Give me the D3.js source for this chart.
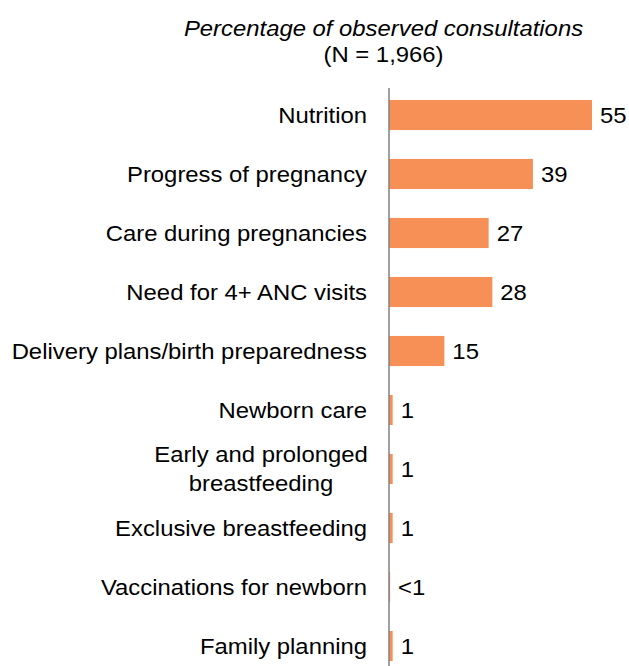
<!DOCTYPE html>
<html>
<head>
<meta charset="utf-8">
<script src="https://cdn.jsdelivr.net/npm/d3@7"></script>
<style>
  html, body { margin: 0; padding: 0; background: #fff; }
  svg { display: block; font-family: "Liberation Sans", Arial, sans-serif; }
</style>
</head>
<body>
<svg id="chart" width="629" height="666"></svg>
<script>
// Topics discussed during observed ANC consultations
const categories = [
  ["Nutrition"],
  ["Progress of pregnancy"],
  ["Care during pregnancies"],
  ["Need for 4+ ANC visits"],
  ["Delivery plans/birth preparedness"],
  ["Newborn care"],
  ["Early and prolonged", "breastfeeding"],
  ["Exclusive breastfeeding"],
  ["Vaccinations for newborn"],
  ["Family planning"]
];
const values = [55, 39, 27, 28, 15, 1, 1, 1, 0.3, 1];
const valueLabels = ["55", "39", "27", "28", "15", "1", "1", "1", "<1", "1"];
const titleLines = ["Percentage of observed consultations", "(N = 1,966)"];

const svg = d3.select("#chart");
const axisX = 389;
const fontSize = 21.5;
const stretch = 1.11; // slightly wide lettering

const x = d3.scaleLinear().domain([0, 55]).range([axisX, 592]);
const y = d3.scaleBand()
  .domain(d3.range(categories.length))
  .range([85.5, 675.5])
  .paddingInner(0.49)
  .paddingOuter(0.245);

// Text helper: place at (px, py) with horizontal stretch
function label(parent, px, py, str, anchor, extra) {
  const g = parent.append("g")
    .attr("transform", `translate(${px},${py}) scale(${stretch},1)`);
  const t = g.append("text")
    .attr("text-anchor", anchor)
    .attr("font-size", fontSize)
    .attr("fill", "#000")
    .text(str);
  if (extra) extra(t);
  return t;
}

// Title
label(svg, 383.5, 36, titleLines[0], "middle", t => t.attr("font-style", "italic"));
label(svg, 383.5, 62, titleLines[1], "middle");

// Bars
svg.append("g").selectAll("rect")
  .data(values)
  .join("rect")
  .attr("x", x(0))
  .attr("y", (d, i) => y(i))
  .attr("width", d => x(d) - x(0))
  .attr("height", y.bandwidth())
  .attr("fill", "#F79056");

// Value labels
const valG = svg.append("g");
values.forEach((d, i) => {
  label(valG, x(d) + 8, y(i) + y.bandwidth() / 2, valueLabels[i], "start",
    t => t.attr("dy", "0.36em"));
});

// Category labels
const catG = svg.append("g");
categories.forEach((lines, i) => {
  const cy = y(i) + y.bandwidth() / 2;
  const lh = 29;
  lines.forEach((ln, j) => {
    const multi = lines.length > 1;
    label(catG, multi ? 261 : 367, cy + (j - (lines.length - 1) / 2) * lh, ln,
      multi ? "middle" : "end", t => t.attr("dy", "0.36em"));
  });
});

// Vertical axis line
svg.append("line")
  .attr("x1", axisX).attr("x2", axisX)
  .attr("y1", 88).attr("y2", 666)
  .attr("stroke", "#808080").attr("stroke-width", 1.5);
</script>
</body>
</html>
